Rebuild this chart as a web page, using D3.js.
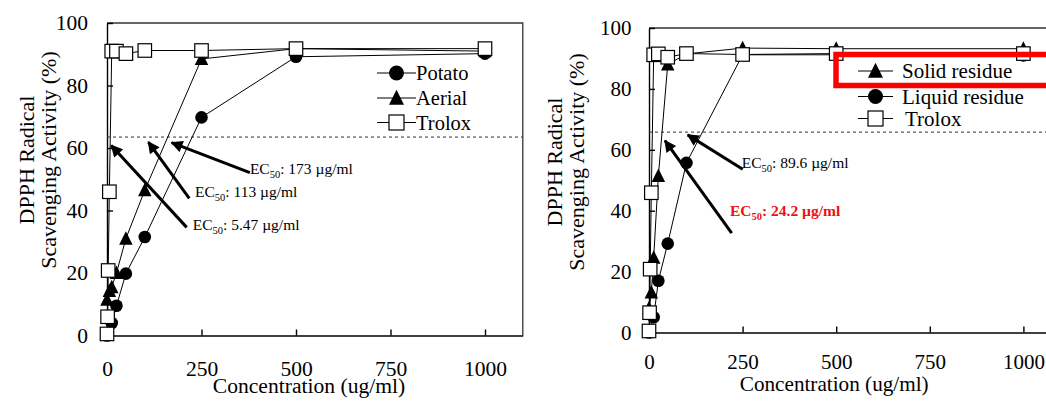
<!DOCTYPE html>
<html>
<head>
<meta charset="utf-8">
<script src="https://cdn.jsdelivr.net/npm/d3@7"></script>
<style>
  body { margin: 0; background: #fff; }
  svg text { font-family: "Liberation Serif", "Times New Roman", Times, "DejaVu Serif", serif; }
</style>
</head>
<body>
<script>
// ---- data ----
const xTicks = [0, 250, 500, 750, 1000]
const yTicks = [0, 20, 40, 60, 80, 100]

// left panel
const potatoX = [0, 12.5, 25, 50, 100, 250, 500, 1000]
const potatoY = [0, 4, 9.5, 19.8, 31.5, 69.8, 89.2, 90.2]
const aerialX = [0, 6.25, 12.5, 25, 50, 100, 250, 500, 1000]
const aerialY = [11.5, 14.3, 15.5, 20, 31, 46.5, 88.5, 91.8, 91]
const troloxX = [0, 1.56, 3.125, 6.25, 12.5, 25, 50, 100, 250, 500, 1000]
const troloxY = [0.5, 6, 20.8, 46, 91, 91, 90.2, 91.2, 91.2, 91.8, 91.8]

// right panel
const solidX = [0, 6.25, 12.5, 25, 50, 100, 250, 500, 1000]
const solidY = [8, 13.2, 24.6, 51.4, 88, 91.5, 93.4, 93.2, 93.2]
const liquidX = [0, 12.5, 25, 50, 100, 250, 500, 1000]
const liquidY = [0, 5, 17, 29.2, 55.7, 91.2, 91.2, 91]
const trolox2X = [0, 1.56, 3.125, 6.25, 12.5, 25, 50, 100, 250, 500, 1000]
const trolox2Y = [0.5, 6.5, 20.8, 45.9, 91.2, 91.5, 90.4, 91.6, 91.3, 91.6, 91.6]

// EC50 reference levels (dashed lines)
const leftLevel = 63.5
const rightLevel = 65.8

// arrows: tail / head in data units, label position
const leftArrows = [
  {tail: [378, 52.1], head: [171, 61.7], label: ': 173 \u00b5g/ml', at: [378, 51.6]},
  {tail: [217.7, 43.9], head: [109.5, 61.9], label: ': 113 \u00b5g/ml', at: [232.8, 44.3]},
  {tail: [210.8, 34.6], head: [11.4, 60.8], label: ': 5.47 \u00b5g/ml', at: [226.7, 33.8]}
]
const rightArrows = [
  {tail: [250.3, 53.6], head: [103.4, 64.9], label: ': 89.6 \u00b5g/ml', at: [247.6, 53.9]},
  {tail: [220.9, 32.6], head: [42.7, 63], label: ': 24.2 \u00b5g/ml', at: [216.3, 38.3], red: true}
]

const zip = (xs, ys) => xs.map((x, i) => ({x: x, y: ys[i]}))
const FONT = '"Liberation Serif", "Times New Roman", Times, serif'

// ---- svg ----
let svg = d3.select('body').append('svg')
            .attr('width', 1046)
            .attr('height', 401)
            .attr('font-family', FONT)

svg.append('rect').attr('width', 1046).attr('height', 401).attr('fill', '#fff')

svg.append('defs').append('marker')
   .attr('id', 'head')
   .attr('viewBox', '0 0 10 10')
   .attr('refX', 9).attr('refY', 5)
   .attr('markerUnits', 'userSpaceOnUse')
   .attr('markerWidth', 14).attr('markerHeight', 12)
   .attr('orient', 'auto')
   .append('path').attr('d', 'M0,0 L10,5 L0,10 Z').attr('fill', '#000')

// marker drawers
const drawMarker = (g, shape, cx, cy, s) => {
  if (shape == 'circle') {
    g.append('circle').attr('cx', cx).attr('cy', cy).attr('r', s / 2).attr('fill', '#000')
  } else if (shape == 'tri') {
    g.append('path')
     .attr('d', `M${cx},${cy - s * 0.55} L${cx + s / 2},${cy + s * 0.45} L${cx - s / 2},${cy + s * 0.45} Z`)
     .attr('fill', '#000')
  } else {
    g.append('rect').attr('x', cx - s / 2).attr('y', cy - s / 2)
     .attr('width', s).attr('height', s)
     .attr('fill', '#fff').attr('stroke', '#000').attr('stroke-width', 1.2)
  }
}

const drawPanel = (p) => {
  let x = d3.scaleLinear().domain([0, 1100]).range([p.left, p.left + 415.8 * p.kx])
  let y = d3.scaleLinear().domain([0, 100]).range([p.bottom, p.top])
  let g = svg.append('g')

  // frame
  g.append('path')
   .attr('d', `M${x(0)},${y(100)} H${x(1100)} V${y(0)}`)
   .attr('fill', 'none').attr('stroke', '#333').attr('stroke-width', 1.3)

  // axes, inward ticks
  let yAxis = d3.axisLeft(y).tickValues(yTicks).tickSizeInner(-6).tickSizeOuter(0).tickPadding(p.yPad)
  let xAxis = d3.axisBottom(x).tickValues(xTicks).tickFormat(d3.format('d'))
                .tickSizeInner(-6).tickSizeOuter(0).tickPadding(p.xPad)
  let ya = g.append('g').attr('transform', `translate(${x(0)},0)`).call(yAxis)
  let xa = g.append('g').attr('transform', `translate(0,${y(0)})`).call(xAxis)
  ;[ya, xa].forEach(a => {
    a.attr('font-family', FONT).attr('font-size', p.tickSize)
    a.selectAll('text').attr('fill', '#000')
    a.selectAll('path, line').attr('stroke', '#000').attr('stroke-width', 1.4)
  })

  // dashed level
  g.append('line')
   .attr('x1', x(0)).attr('x2', x(1100))
   .attr('y1', y(p.level)).attr('y2', y(p.level))
   .attr('stroke', '#333').attr('stroke-width', 1).attr('stroke-dasharray', '3,3')

  // series lines then markers
  let line = d3.line().x(d => x(d.x)).y(d => y(d.y))
  p.series.forEach(s => {
    g.append('path').datum(s.data).attr('d', line)
     .attr('fill', 'none').attr('stroke', '#000').attr('stroke-width', 1)
  })
  p.series.forEach(s => {
    s.data.forEach(d => drawMarker(g, s.shape, x(d.x), y(d.y), s.shape == 'circle' ? 12.6 : 13.5))
  })

  // arrows + labels
  p.arrows.forEach(a => {
    g.append('line')
     .attr('x1', x(a.tail[0])).attr('y1', y(a.tail[1]))
     .attr('x2', x(a.head[0])).attr('y2', y(a.head[1]))
     .attr('stroke', '#000').attr('stroke-width', 3)
     .attr('marker-end', 'url(#head)')
    let t = g.append('text')
             .attr('x', x(a.at[0])).attr('y', y(a.at[1]))
             .attr('font-size', 15.5)
             .attr('fill', a.red ? '#f01010' : '#000')
             .attr('font-weight', a.red ? 'bold' : 'normal')
    t.append('tspan').text('EC')
    t.append('tspan').text('50').attr('font-size', 10.5).attr('dy', 4)
    t.append('tspan').text(a.label).attr('dy', -4)
  })

  // axis titles
  g.append('text').attr('x', (x(0) + x(1000)) / 2 + p.titleShift).attr('y', p.xTitleY)
   .attr('text-anchor', 'middle').attr('font-size', p.xTitleSize).text('Concentration (ug/ml)')
  g.append('text').attr('transform', `translate(${p.yTitleX[0]},${p.yTitleY}) rotate(-90)`)
   .attr('text-anchor', 'middle').attr('font-size', 22).text('DPPH Radical')
  g.append('text').attr('transform', `translate(${p.yTitleX[1]},${p.yTitleY}) rotate(-90)`)
   .attr('text-anchor', 'middle').attr('font-size', 22).text('Scavenging Activity (%)')

  // legend
  p.legend.forEach((l, i) => {
    let ly = p.legY[i]
    g.append('line').attr('x1', p.legLine[0]).attr('x2', p.legLine[1])
     .attr('y1', ly).attr('y2', ly).attr('stroke', '#000').attr('stroke-width', 1)
    drawMarker(g, l.shape, (p.legLine[0] + p.legLine[1]) / 2, ly, 15)
    g.append('text').attr('x', p.legText + (l.dx || 0)).attr('y', ly + 7)
     .attr('font-size', p.legSize).text(l.name)
  })
}

drawPanel({
  left: 107, kx: 1, top: 23, bottom: 335.5, yPad: 19, xPad: 25,
  tickSize: 21.5, xTitleSize: 21.6, legSize: 20.5,
  level: leftLevel,
  series: [
    {shape: 'circle', data: zip(potatoX, potatoY)},
    {shape: 'tri', data: zip(aerialX, aerialY)},
    {shape: 'square', data: zip(troloxX, troloxY)}
  ],
  arrows: leftArrows,
  titleShift: 13, xTitleY: 393, yTitleX: [33.5, 56], yTitleY: 160,
  legend: [{name: 'Potato', shape: 'circle'}, {name: 'Aerial', shape: 'tri'}, {name: 'Trolox', shape: 'square'}],
  legY: [73, 98, 122.5], legLine: [377, 416], legText: 416
})

drawPanel({
  left: 649, kx: 0.3744 / 0.378, top: 28, bottom: 332.5, yPad: 17.5, xPad: 22,
  tickSize: 21, xTitleSize: 21.2, legSize: 21,
  level: rightLevel,
  series: [
    {shape: 'circle', data: zip(liquidX, liquidY)},
    {shape: 'tri', data: zip(solidX, solidY)},
    {shape: 'square', data: zip(trolox2X, trolox2Y)}
  ],
  arrows: rightArrows,
  titleShift: -2, xTitleY: 391, yTitleX: [562, 584], yTitleY: 162,
  legend: [{name: 'Solid residue', shape: 'tri'}, {name: 'Liquid residue', shape: 'circle'}, {name: 'Trolox', shape: 'square', dx: 3}],
  legY: [71, 96.5, 118.5], legLine: [858, 893], legText: 902
})

// red highlight box on the right legend
svg.append('rect')
   .attr('x', 836).attr('y', 54.5).attr('width', 260).attr('height', 31)
   .attr('fill', 'none').attr('stroke', '#ff0000').attr('stroke-width', 5.5)
</script>
</body>
</html>
